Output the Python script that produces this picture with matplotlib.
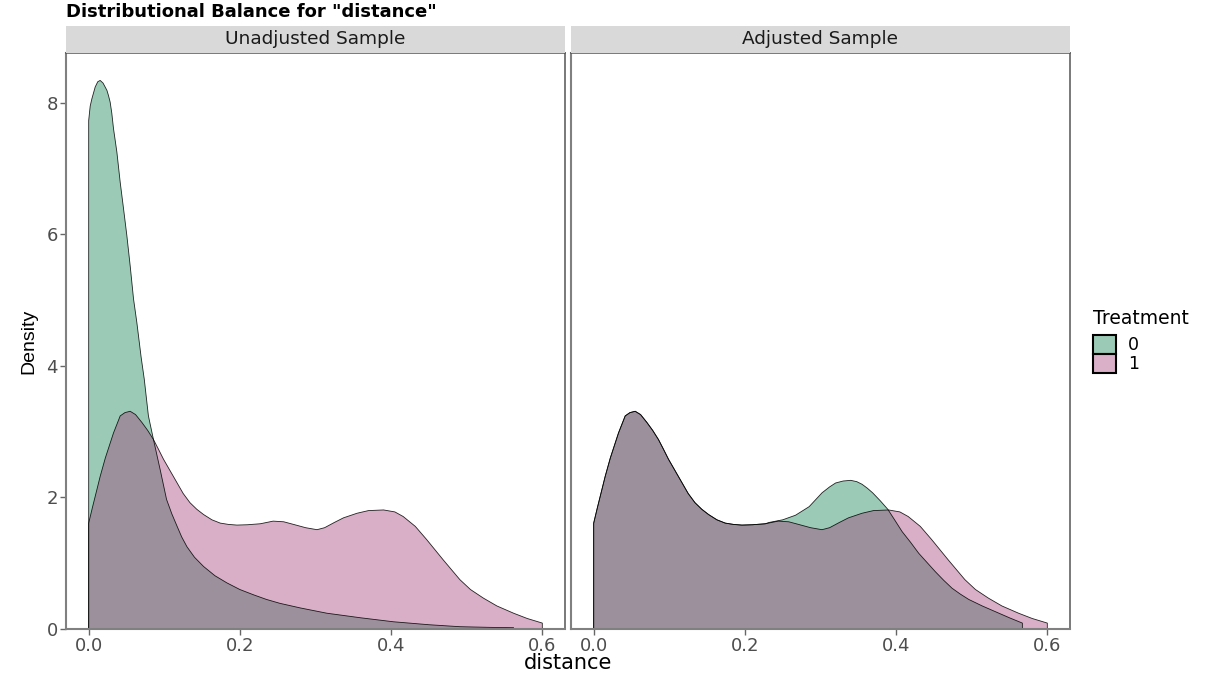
import matplotlib
matplotlib.use("Agg")
import matplotlib.pyplot as plt
from matplotlib.patches import Rectangle

# ---------------- data ----------------
panels = ["Unadjusted Sample", "Adjusted Sample"]
treatments = ["0", "1"]

# Unadjusted, treatment 0
un0_x = [0.0, 0.002, 0.0042, 0.0086, 0.012, 0.0152, 0.019, 0.0241, 0.0262, 0.0284,
         0.0306, 0.0328, 0.0373, 0.0417, 0.0461, 0.0505, 0.0549, 0.0593, 0.0637, 0.0694,
         0.0735, 0.079, 0.0857, 0.0946, 0.103, 0.110, 0.117, 0.123, 0.130, 0.140,
         0.152, 0.167, 0.183, 0.200, 0.218, 0.235, 0.253, 0.280, 0.315, 0.360,
         0.403, 0.450, 0.491, 0.530, 0.562]
un0_y = [7.73, 7.95, 8.06, 8.24, 8.32, 8.34, 8.30, 8.19, 8.11, 8.01,
         7.84, 7.61, 7.25, 6.79, 6.39, 5.98, 5.52, 5.02, 4.66, 4.13,
         3.80, 3.24, 2.88, 2.42, 1.97, 1.75, 1.56, 1.40, 1.25, 1.09,
         0.95, 0.81, 0.70, 0.60, 0.52, 0.45, 0.39, 0.32, 0.24, 0.17,
         0.11, 0.065, 0.035, 0.025, 0.02]

# Treatment 1 (same in both panels)
tr1_x = [0.0, 0.005, 0.010, 0.0152, 0.022, 0.0328, 0.0417, 0.048, 0.0549, 0.062,
         0.0704, 0.078, 0.0857, 0.092, 0.099, 0.108, 0.117, 0.125, 0.134, 0.143,
         0.152, 0.163, 0.174, 0.185, 0.196, 0.210, 0.227, 0.244, 0.258, 0.271,
         0.287, 0.302, 0.312, 0.325, 0.337, 0.355, 0.370, 0.390, 0.405, 0.416,
         0.432, 0.447, 0.469, 0.491, 0.505, 0.522, 0.540, 0.562, 0.580, 0.600]
tr1_y = [1.61, 1.85, 2.08, 2.32, 2.60, 2.98, 3.24, 3.29, 3.31, 3.26,
         3.14, 3.02, 2.88, 2.74, 2.58, 2.40, 2.22, 2.06, 1.92, 1.82,
         1.74, 1.66, 1.61, 1.59, 1.58, 1.585, 1.60, 1.64, 1.63, 1.59,
         1.54, 1.51, 1.54, 1.62, 1.69, 1.76, 1.80, 1.81, 1.78, 1.71,
         1.56, 1.36, 1.05, 0.75, 0.60, 0.47, 0.35, 0.24, 0.16, 0.09]

# Adjusted, treatment 0
ad0_x = [0.0, 0.005, 0.010, 0.0152, 0.022, 0.0328, 0.0417, 0.048, 0.0549, 0.062,
         0.0704, 0.078, 0.0857, 0.092, 0.099, 0.108, 0.117, 0.125, 0.134, 0.143,
         0.152, 0.163, 0.174, 0.185, 0.196, 0.210, 0.227, 0.232, 0.250, 0.267,
         0.285, 0.302, 0.312, 0.320, 0.330, 0.340, 0.348, 0.355, 0.362, 0.369,
         0.379, 0.389, 0.398, 0.408, 0.419, 0.430, 0.441, 0.452, 0.463, 0.474,
         0.485, 0.496, 0.514, 0.532, 0.550, 0.567]
ad0_y = [1.61, 1.85, 2.08, 2.32, 2.60, 2.98, 3.24, 3.29, 3.31, 3.26,
         3.14, 3.02, 2.88, 2.74, 2.58, 2.40, 2.22, 2.06, 1.92, 1.82,
         1.74, 1.66, 1.61, 1.59, 1.58, 1.585, 1.60, 1.62, 1.66, 1.73,
         1.86, 2.07, 2.16, 2.22, 2.25, 2.26, 2.24, 2.20, 2.14, 2.07,
         1.95, 1.82, 1.66, 1.48, 1.32, 1.15, 1.01, 0.87, 0.74, 0.62,
         0.53, 0.45, 0.35, 0.26, 0.17, 0.09]

series = {
    "Unadjusted Sample": [(un0_x, un0_y), (tr1_x, tr1_y)],
    "Adjusted Sample": [(ad0_x, ad0_y), (tr1_x, tr1_y)],
}

x_ticks = [0.0, 0.2, 0.4, 0.6]
y_ticks = [0, 2, 4, 6, 8]

# ---------------- style ----------------
plt.rcParams['font.family'] = ['DejaVu Sans']
W, H = 1217, 674
fig = plt.figure(figsize=(W / 100, H / 100), dpi=100)

fill_colors = ["#057D4B", "#A03975"]
ALPHA = 0.4
legend_colors = ["#9BCBB7", "#D9B0C8"]
grey = "#4D4D4D"

def px_axes(x0, y0, x1, y1):
    return fig.add_axes([x0 / W, 1 - y1 / H, (x1 - x0) / W, (y1 - y0) / H])

panel_x = [(66, 565), (571, 1070)]
top, bottom = 53, 629

for i, name in enumerate(panels):
    x0, x1 = panel_x[i]
    ax = px_axes(x0, top, x1, bottom)
    for (xs, ys), col in zip(series[name], fill_colors):
        px = [xs[0]] + list(xs) + [xs[-1]]
        py = [0] + list(ys) + [0]
        ax.fill(px, py, facecolor=col, alpha=ALPHA, edgecolor="none")
        ax.plot(px, py, color="black", lw=0.6, alpha=0.85, solid_joinstyle="round")
    ax.set_xlim(-0.03, 0.63)
    ax.set_ylim(0, 8.34 * 1.05)
    ax.set_xticks(x_ticks)
    ax.set_xticklabels([f"{v:.1f}" for v in x_ticks], fontsize=13, color=grey)
    ax.set_yticks(y_ticks)
    if i == 0:
        ax.set_yticklabels([str(v) for v in y_ticks], fontsize=13, color=grey)
        ax.set_ylabel("Density", fontsize=14, family=["Liberation Sans"], labelpad=6)
    else:
        ax.tick_params(axis="y", left=False, labelleft=False)
    ax.tick_params(axis="both", length=4, width=1, color="#666666", pad=2)
    for s in ax.spines.values():
        s.set_color("#555555")
        s.set_linewidth(1.1)
    ax.spines["left"].set_color("#808080")
    ax.spines["bottom"].set_color("#808080")
    ax.spines["left"].set_linewidth(1.5)
    ax.spines["bottom"].set_linewidth(1.5)

    # strip
    sx = px_axes(x0, 26, x1, top)
    sx.set_facecolor("#D9D9D9")
    sx.set_xticks([]); sx.set_yticks([])
    for s in sx.spines.values():
        s.set_visible(False)
    sx.text(0.5, 0.5, name, ha="center", va="center", fontsize=13.3,
            color="#1A1A1A", transform=sx.transAxes)

# title and x label
fig.text(66 / W, 1 - 12 / H, 'Distributional Balance for "distance"',
         fontsize=13, fontweight="bold", ha="left", va="center")
fig.text(568 / W, 1 - 653 / H, "distance", fontsize=15, ha="center", va="top")

# legend
fig.text(1093 / W, 1 - 318 / H, "Treatment", fontsize=13.5, ha="left", va="center")
for k, (lab, col) in enumerate(zip(treatments, legend_colors)):
    ytop = 335 + 19 * k
    fig.patches.append(Rectangle((1093 / W, 1 - (ytop + 19) / H), 23 / W, 19 / H,
                                 transform=fig.transFigure, facecolor=col,
                                 edgecolor="black", lw=1.5))
    fig.text(1128 / W, 1 - (ytop + 9.5) / H, lab, fontsize=12.5, ha="left", va="center")

fig.savefig("out.png", dpi=100)
